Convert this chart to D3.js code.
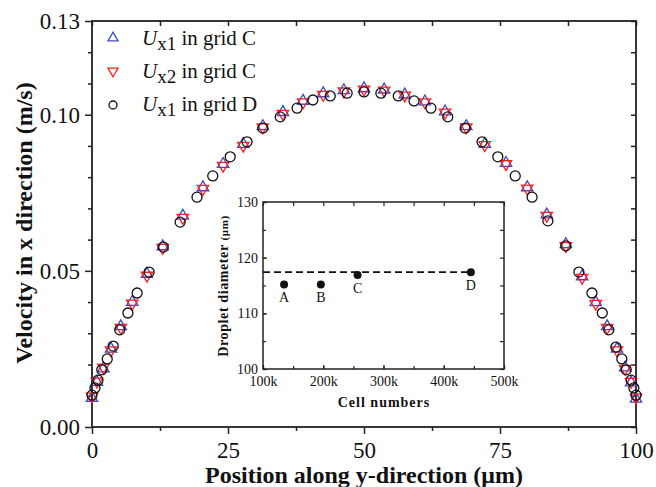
<!DOCTYPE html>
<html>
<head>
<meta charset="utf-8">
<script src="https://cdn.jsdelivr.net/npm/d3@7"></script>
<style>
  body { margin: 0; background: #fff; }
  svg { display: block; }
  text { font-family: "Liberation Serif", "Times New Roman", serif; fill: #111; }
</style>
</head>
<body>
<svg id="chart" width="656" height="487"></svg>
<script>
// ---------------- DATA ----------------
// Grid C: positions (um) and velocities (m/s)
const posC = [0, 0.9, 2.1, 3.5, 5.3, 7.4, 10.1, 13.0, 16.7, 20.4, 24.1, 27.8, 31.4, 35.1, 38.8, 42.5, 46.3, 50.0, 53.7, 57.5, 61.2, 64.9, 68.8, 72.2, 76.1, 80.0, 83.6, 87.1, 90.1, 92.6, 94.7, 96.5, 98.0, 99.1, 100];
const ux1C = [0.0093, 0.0144, 0.0187, 0.0250, 0.0322, 0.0400, 0.0490, 0.0578, 0.0676, 0.0767, 0.0842, 0.0906, 0.0963, 0.1008, 0.1044, 0.1068, 0.1078, 0.1084, 0.1080, 0.1064, 0.1042, 0.1010, 0.0963, 0.0906, 0.0845, 0.0767, 0.0680, 0.0585, 0.0482, 0.0399, 0.0322, 0.0250, 0.0190, 0.0142, 0.0090];
const ux2C = [0.0098, 0.0146, 0.0191, 0.0246, 0.0318, 0.0396, 0.0485, 0.0574, 0.0670, 0.0763, 0.0837, 0.0901, 0.0960, 0.1003, 0.1040, 0.1064, 0.1075, 0.1081, 0.1078, 0.1062, 0.1040, 0.1007, 0.0960, 0.0903, 0.0842, 0.0764, 0.0677, 0.0580, 0.0478, 0.0395, 0.0318, 0.0246, 0.0187, 0.0145, 0.0095];
// Grid D
const posD = [0, 0.55, 1.1, 1.8, 2.8, 3.9, 5.1, 6.6, 8.3, 10.5, 13.1, 16.2, 19.3, 22.2, 25.4, 28.5, 31.4, 34.6, 37.7, 40.6, 43.8, 46.9, 50.0, 53.1, 56.3, 59.2, 62.3, 65.4, 68.6, 71.7, 74.6, 77.8, 80.9, 83.8, 87.1, 89.5, 91.9, 93.8, 95.0, 96.3, 97.4, 98.2, 99.1, 99.6, 100];
const ux1D = [0.0102, 0.0125, 0.0150, 0.0183, 0.0218, 0.0259, 0.0311, 0.0365, 0.0429, 0.0496, 0.0576, 0.0656, 0.0736, 0.0804, 0.0865, 0.0913, 0.0957, 0.0993, 0.1021, 0.1047, 0.1060, 0.1069, 0.1073, 0.1069, 0.1060, 0.1044, 0.1021, 0.0993, 0.0957, 0.0913, 0.0865, 0.0804, 0.0736, 0.0660, 0.0580, 0.0496, 0.0429, 0.0365, 0.0311, 0.0256, 0.0218, 0.0183, 0.0150, 0.0125, 0.0102];

const legendLabels = [
  { sub: "x1", rest: " in grid C" },
  { sub: "x2", rest: " in grid C" },
  { sub: "x1", rest: " in grid D" }
];

const yTickLabels = [0, 0.05, 0.10, 0.13];
const xTickLabels = [0, 25, 50, 75, 100];

// Inset data
const gridNames = ["A", "B", "C", "D"];
const cellNumbers = [135000, 196000, 257000, 445000];
const dropletDiam = [115.2, 115.2, 116.9, 117.4];
const referenceDiam = 117.4;
const insetXTicks = [100000, 200000, 300000, 400000, 500000];
const insetYTicks = [100, 110, 120, 130];

// ---------------- CHART ----------------
const svg = d3.select("#chart");
const BLUE = "#3a4cc4", RED = "#ff1f1f";

const x = d3.scaleLinear().domain([0, 100]).range([92, 636]);
const y = d3.scaleLinear().domain([0, 0.13]).range([427, 21]);

const minorY = d3.range(0, 14).map(i => +(i * 0.01).toFixed(2));
const minorX = d3.range(0, 9).map(i => i * 12.5);

function styleAxis(g) {
  g.select(".domain").remove();
  g.selectAll("line").attr("stroke", "#222").attr("stroke-width", 1.5);
}

// Left minor
svg.append("g").attr("transform", "translate(92,0)")
  .call(d3.axisLeft(y).tickValues(minorY.filter(v => !yTickLabels.includes(v))).tickSize(4).tickFormat(""))
  .call(styleAxis);
// Left major
const gl = svg.append("g").attr("transform", "translate(92,0)")
  .call(d3.axisLeft(y).tickValues(yTickLabels).tickSize(7).tickPadding(5).tickFormat(d3.format(".2f")))
  .call(styleAxis);
gl.selectAll("text").attr("font-size", 23).attr("fill", "#111")
  .style("font-family", '"Liberation Serif", serif');
// Right
svg.append("g").attr("transform", "translate(636,0)")
  .call(d3.axisRight(y).tickValues(minorY).tickSize(-5).tickFormat(""))
  .call(styleAxis);
// Bottom minor
svg.append("g").attr("transform", "translate(0,427)")
  .call(d3.axisBottom(x).tickValues(minorX.filter(v => !xTickLabels.includes(v))).tickSize(4).tickFormat(""))
  .call(styleAxis);
// Bottom major
const gb = svg.append("g").attr("transform", "translate(0,427)")
  .call(d3.axisBottom(x).tickValues(xTickLabels).tickSize(7).tickPadding(8).tickFormat(d3.format("d")))
  .call(styleAxis);
gb.selectAll("text").attr("font-size", 23).attr("fill", "#111")
  .style("font-family", '"Liberation Serif", serif');
// Top
svg.append("g").attr("transform", "translate(0,21)")
  .call(d3.axisTop(x).tickValues(minorX).tickSize(-5).tickFormat(""))
  .call(styleAxis);

// Frame
svg.append("rect").attr("x", 92).attr("y", 21).attr("width", 544).attr("height", 406)
  .attr("fill", "none").attr("stroke", "#222").attr("stroke-width", 1.8);

// Axis titles
svg.append("text").attr("x", 364).attr("y", 483).attr("text-anchor", "middle")
  .attr("font-size", 24).attr("font-weight", "bold")
  .text("Position along y-direction (\u03BCm)");
svg.append("text").attr("transform", "translate(32,223) rotate(-90)").attr("text-anchor", "middle")
  .attr("font-size", 24).attr("font-weight", "bold")
  .text("Velocity in x direction (m/s)");

// Markers
const triUp = d3.symbol().type(d3.symbolTriangle).size(56);
const plot = svg.append("g");
plot.selectAll(".c1").data(posC.map((p, i) => [p, ux1C[i]])).join("path")
  .attr("d", triUp).attr("transform", d => `translate(${x(d[0])},${y(d[1])})`)
  .attr("fill", "none").attr("stroke", BLUE).attr("stroke-width", 1.3);
plot.selectAll(".c2").data(posC.map((p, i) => [p, ux2C[i]])).join("path")
  .attr("d", triUp).attr("transform", d => `translate(${x(d[0])},${y(d[1])}) rotate(180)`)
  .attr("fill", "none").attr("stroke", RED).attr("stroke-width", 1.3);
plot.selectAll(".d1").data(posD.map((p, i) => [p, ux1D[i]])).join("circle")
  .attr("cx", d => x(d[0])).attr("cy", d => y(d[1])).attr("r", 5)
  .attr("fill", "none").attr("stroke", "#111").attr("stroke-width", 1.3);

// Legend
const legSym = [
  s => s.append("path").attr("d", d3.symbol().type(d3.symbolTriangle).size(44)).attr("fill", "none").attr("stroke", BLUE).attr("stroke-width", 1.3),
  s => s.append("path").attr("d", d3.symbol().type(d3.symbolTriangle).size(44)).attr("transform", "rotate(180)").attr("fill", "none").attr("stroke", RED).attr("stroke-width", 1.3),
  s => s.append("circle").attr("r", 4).attr("fill", "none").attr("stroke", "#111").attr("stroke-width", 1.3)
];
const legY = [38, 71, 105];
const legBase = [45, 78, 111];
legendLabels.forEach((l, i) => {
  const g = svg.append("g").attr("transform", `translate(113,${legY[i]})`);
  legSym[i](g);
  const t = svg.append("text").attr("x", 142).attr("y", legBase[i]).attr("font-size", 21);
  t.append("tspan").attr("font-style", "italic").text("U");
  t.append("tspan").attr("font-size", 19).attr("dy", 5).text(l.sub);
  t.append("tspan").attr("dy", -5).text(l.rest);
});

// ---------------- INSET ----------------
const ix = d3.scaleLinear().domain([100000, 500000]).range([263, 504]);
const iy = d3.scaleLinear().domain([100, 130]).range([369, 202]);
const inset = svg.append("g");
inset.append("rect").attr("x", 263).attr("y", 202).attr("width", 241).attr("height", 167).attr("fill", "#fff");

const iMinorX = d3.range(100000, 500001, 50000);
const iMinorY = d3.range(100, 131, 5);
function styleInset(g) {
  g.select(".domain").remove();
  g.selectAll("line").attr("stroke", "#222").attr("stroke-width", 1.2);
}
const ilg = inset.append("g").attr("transform", "translate(263,0)")
  .call(d3.axisLeft(iy).tickValues(insetYTicks).tickSize(-4).tickPadding(5).tickFormat(d3.format("d")))
  .call(styleInset);
ilg.selectAll("text").attr("font-size", 14).attr("fill", "#111").style("font-family", '"Liberation Serif", serif');
inset.append("g").attr("transform", "translate(263,0)")
  .call(d3.axisLeft(iy).tickValues(iMinorY).tickSize(-3).tickFormat("")).call(styleInset);
inset.append("g").attr("transform", "translate(504,0)")
  .call(d3.axisRight(iy).tickValues(iMinorY).tickSize(-4).tickFormat("")).call(styleInset);
const ibg = inset.append("g").attr("transform", "translate(0,369)")
  .call(d3.axisBottom(ix).tickValues(insetXTicks).tickSize(-4).tickPadding(7).tickFormat(d => d / 1000 + "k"))
  .call(styleInset);
ibg.selectAll("text").attr("font-size", 14).attr("fill", "#111").style("font-family", '"Liberation Serif", serif');
inset.append("g").attr("transform", "translate(0,369)")
  .call(d3.axisBottom(ix).tickValues(iMinorX).tickSize(-3).tickFormat("")).call(styleInset);
inset.append("g").attr("transform", "translate(0,202)")
  .call(d3.axisTop(ix).tickValues(iMinorX).tickSize(-4).tickFormat("")).call(styleInset);

inset.append("rect").attr("x", 263).attr("y", 202).attr("width", 241).attr("height", 167)
  .attr("fill", "none").attr("stroke", "#222").attr("stroke-width", 1.5);

// dashed reference line
inset.append("line")
  .attr("x1", ix(100000)).attr("x2", ix(cellNumbers[3]))
  .attr("y1", iy(referenceDiam)).attr("y2", iy(referenceDiam))
  .attr("stroke", "#111").attr("stroke-width", 1.8).attr("stroke-dasharray", "7,4");

inset.selectAll(".pt").data(cellNumbers.map((c, i) => [c, dropletDiam[i], gridNames[i]])).join("circle")
  .attr("cx", d => ix(d[0])).attr("cy", d => iy(d[1])).attr("r", 4).attr("fill", "#111");
inset.selectAll(".lbl").data(cellNumbers.map((c, i) => [c, dropletDiam[i], gridNames[i]])).join("text")
  .attr("x", d => ix(d[0])).attr("y", d => iy(d[1]) + 18).attr("text-anchor", "middle")
  .attr("font-size", 14).text(d => d[2]);

inset.append("text").attr("x", 384).attr("y", 407).attr("text-anchor", "middle")
  .attr("font-size", 14).attr("font-weight", "bold").attr("letter-spacing", 1)
  .text("Cell numbers");
const yl = inset.append("text").attr("transform", "translate(228,286) rotate(-90)").attr("text-anchor", "middle")
  .attr("font-size", 14).attr("font-weight", "bold").attr("letter-spacing", 0.6);
yl.append("tspan").text("Droplet diameter ");
yl.append("tspan").attr("font-size", 11).text("(\u03BCm)");
</script>
</body>
</html>
